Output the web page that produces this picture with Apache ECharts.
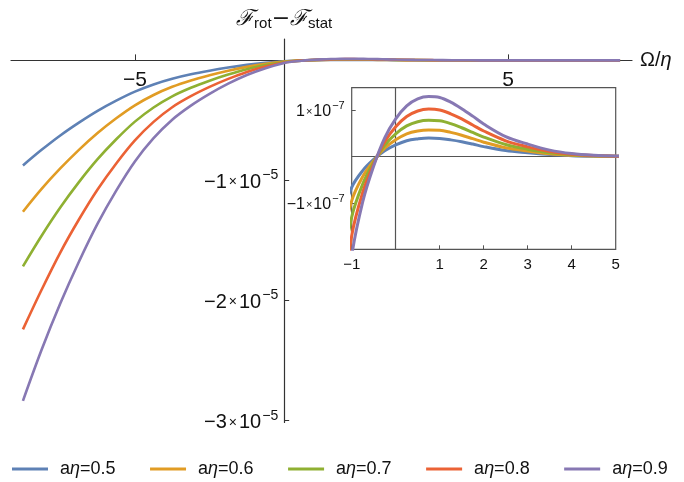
<!DOCTYPE html>
<html>
<head>
<meta charset="utf-8">
<script src="https://cdn.jsdelivr.net/npm/echarts@6/dist/echarts.min.js"></script>
<style>
  html, body { margin: 0; padding: 0; background: #fff; }
  #chart { width: 684px; height: 482px; }
</style>
</head>
<body>
<div id="chart"></div>
<script>
// Ω/η sample points shared by every curve
const OMEGA = [-8, -7.5, -7, -6.5, -6, -5.5, -5, -4.5, -4, -3.5, -3, -2.5, -2, -1.5, -1, -0.75, -0.5, -0.25,
  0, 0.25, 0.5, 0.75, 1, 1.25, 1.5, 1.75, 2, 2.5, 3, 3.5, 4, 4.5, 5, 6, 7, 8];

// F_rot - F_stat, in units of 1e-7
const F_05 = [-87.5, -74.5, -62.5, -51.8, -42, -33.5, -26, -20, -15.3, -11.6, -8.6, -6, -3.75, -2, -0.66, -0.3, -0.06, 0.125,
  0.25, 0.34, 0.38, 0.40, 0.39, 0.36, 0.32, 0.27, 0.215, 0.13, 0.083, 0.043, 0.02, 0.009, 0.004, 0.001, 0, 0];
const F_06 = [-126, -107, -90, -74.5, -60.5, -48.2, -37.4, -28.8, -22, -16.7, -12.4, -8.6, -5.4, -2.9, -0.95, -0.43, -0.09, 0.18,
  0.36, 0.49, 0.55, 0.57, 0.565, 0.52, 0.46, 0.385, 0.31, 0.19, 0.12, 0.061, 0.029, 0.013, 0.005, 0.001, 0, 0];
const F_07 = [-171.5, -146, -122.5, -101.4, -82.3, -65.7, -51, -39.2, -29.9, -22.8, -16.9, -11.8, -7.35, -3.9, -1.3, -0.59, -0.12, 0.245,
  0.49, 0.66, 0.75, 0.78, 0.77, 0.71, 0.62, 0.52, 0.42, 0.26, 0.16, 0.083, 0.039, 0.017, 0.007, 0.0015, 0, 0];
const F_08 = [-224, -191, -160, -132.5, -107.5, -85.8, -66.6, -51.2, -39, -29.8, -22.1, -15.4, -9.6, -5.1, -1.7, -0.77, -0.16, 0.32,
  0.64, 0.86, 0.98, 1.02, 1.0, 0.92, 0.81, 0.68, 0.55, 0.34, 0.21, 0.11, 0.051, 0.022, 0.01, 0.002, 0, 0];
const F_09 = [-283.5, -241, -202.5, -167.7, -136, -108.5, -84.2, -64.8, -49.4, -37.7, -27.9, -19.4, -12.2, -6.5, -2.15, -0.97, -0.2, 0.405,
  0.81, 1.09, 1.24, 1.29, 1.27, 1.17, 1.03, 0.87, 0.70, 0.43, 0.27, 0.14, 0.065, 0.028, 0.012, 0.002, 0.001, 0];

const SERIES_NAMES = ['aη=0.5', 'aη=0.6', 'aη=0.7', 'aη=0.8', 'aη=0.9'];
const SERIES_VALUES = [F_05, F_06, F_07, F_08, F_09];
const COLORS = ['#5E81B5', '#E19C24', '#8FB032', '#EB6235', '#8778B3'];

// tick positions and labels
const MAIN_X_TICKS = [-5, 5];
const MAIN_X_LABELS = ['−5', '5'];
const MAIN_Y_TICKS = [-100, -200, -300];
const MAIN_Y_LABELS = ['−1', '−2', '−3'];
const MAIN_Y_EXP = '−5';
const INSET_X_TICKS = [1, 2, 3, 4];
const INSET_X_LABELS = [-1, 1, 2, 3, 4, 5];
const INSET_Y_TICKS = [1, -1];
const INSET_Y_LABELS = ['1', '−1'];
const INSET_Y_EXP = '−7';

const FONT = "'Liberation Sans', Arial, sans-serif";
const AXIS_COLOR = '#333';

// main plot frame: the horizontal axis sits at F = 0, the vertical one at Ω/η = -1
const MAIN_GRID = { left: 11, top: 39, width: 621, height: 383.5 };
const MAIN_Y_MIN = -301.5, MAIN_Y_MAX = 17.8;
const MAIN_X_MIN = -8.32, MAIN_X_MAX = 8.32;
const MAIN_V_AXIS_AT = -1;

const zeroRowOffset = -MAIN_GRID.height * (0 - MAIN_Y_MIN) / (MAIN_Y_MAX - MAIN_Y_MIN);
const vAxisOffset = -MAIN_GRID.width * (MAIN_V_AXIS_AT - MAIN_X_MIN) / (MAIN_X_MAX - MAIN_X_MIN);

function pairs(values) {
  return OMEGA.map((x, i) => [x, values[i]]);
}

function sciLabel(mantissa, exp) {
  return '{m|' + mantissa + '}{t|×}{m|10}{s|' + exp + '}';
}

const mainSeries = SERIES_NAMES.map((name, i) => ({
  name: name,
  type: 'line',
  xAxisIndex: 0,
  yAxisIndex: 0,
  data: pairs(SERIES_VALUES[i]),
  smooth: 0.35,
  showSymbol: false,
  symbol: 'none',
  lineStyle: { width: 2.6, color: COLORS[i] },
  itemStyle: { color: COLORS[i] },
  z: 3 + i
}));

const insetSeries = SERIES_NAMES.map((name, i) => {
  const s = {
    name: name,
    type: 'line',
    xAxisIndex: 1,
    yAxisIndex: 1,
    data: pairs(SERIES_VALUES[i]),
    smooth: 0.35,
    showSymbol: false,
    symbol: 'none',
    clip: true,
    lineStyle: { width: 3, color: COLORS[i] },
    itemStyle: { color: COLORS[i] },
    z: 3 + i
  };
  if (i === 0) {
    // zero lines inside the inset frame
    s.markLine = {
      silent: true,
      symbol: 'none',
      label: { show: false },
      lineStyle: { color: '#555', width: 1.2, type: 'solid' },
      data: [{ xAxis: 0 }, { yAxis: 0 }],
      z: 2
    };
  }
  return s;
});

const chart = echarts.init(document.getElementById('chart'), null, { renderer: 'canvas' });

chart.setOption({
  animation: false,
  backgroundColor: '#fff',
  textStyle: { fontFamily: FONT },
  color: COLORS,
  legend: {
    left: 7,
    top: 455,
    icon: 'rect',
    itemWidth: 36,
    itemHeight: 3,
    itemGap: 34.5,
    data: SERIES_NAMES,
    formatter: function (name) {
      const parts = name.split('η');
      return '{p|' + parts[0] + '}{i|η}{r|' + parts[1] + '}';
    },
    textStyle: {
      rich: {
        p: { fontSize: 18, color: '#111', fontFamily: FONT, padding: [0, 0, 0, 7] },
        r: { fontSize: 18, color: '#111', fontFamily: FONT },
        i: { fontSize: 18, color: '#111', fontStyle: 'italic', fontFamily: FONT }
      }
    }
  },
  grid: [
    Object.assign({ show: false }, MAIN_GRID),
    { left: 351.7, top: 87.7, width: 264, height: 161.6, show: true, borderColor: '#555', borderWidth: 1.2, backgroundColor: 'transparent' }
  ],
  xAxis: [
    {
      gridIndex: 0,
      type: 'value',
      min: MAIN_X_MIN,
      max: MAIN_X_MAX,
      position: 'bottom',
      offset: zeroRowOffset,
      name: '{o|Ω/}{e|η}',
      nameLocation: 'end',
      nameGap: 8,
      nameTextStyle: {
        rich: {
          o: { fontSize: 20, color: '#111', fontFamily: FONT },
          e: { fontSize: 20, color: '#111', fontStyle: 'italic', fontFamily: FONT }
        }
      },
      axisLine: { show: true, onZero: false, lineStyle: { color: AXIS_COLOR, width: 1.2 } },
      axisTick: { show: true, inside: true, length: 6, customValues: MAIN_X_TICKS, lineStyle: { color: AXIS_COLOR } },
      axisLabel: {
        show: true,
        customValues: MAIN_X_TICKS,
        margin: 9,
        fontSize: 21,
        color: '#111',
        formatter: function (v) { return MAIN_X_LABELS[MAIN_X_TICKS.indexOf(v)]; }
      },
      splitLine: { show: false }
    },
    {
      gridIndex: 1,
      type: 'value',
      min: -1,
      max: 5,
      axisLine: { show: false, onZero: false },
      axisTick: { show: true, inside: true, length: 4, customValues: INSET_X_TICKS, lineStyle: { color: '#555' } },
      axisLabel: {
        show: true,
        customValues: INSET_X_LABELS,
        margin: 8,
        fontSize: 15,
        color: '#111',
        formatter: function (v) { return v < 0 ? '−' + Math.abs(v) : String(v); }
      },
      splitLine: { show: false }
    }
  ],
  yAxis: [
    {
      gridIndex: 0,
      type: 'value',
      min: MAIN_Y_MIN,
      max: MAIN_Y_MAX,
      position: 'left',
      offset: vAxisOffset,
      name: '{f|ℱ}{b|rot}{f|−ℱ}{b|stat}',
      nameLocation: 'end',
      nameGap: 8,
      nameTextStyle: {
        align: 'center',
        rich: {
          f: { fontSize: 22, color: '#111', fontStyle: 'italic', fontFamily: "'DejaVu Serif', serif" },
          b: { fontSize: 15, color: '#111', fontFamily: FONT, padding: [8, 0, 0, 0] }
        }
      },
      axisLine: { show: true, onZero: false, lineStyle: { color: AXIS_COLOR, width: 1.2 } },
      axisTick: { show: true, inside: true, length: 5, customValues: MAIN_Y_TICKS, lineStyle: { color: AXIS_COLOR } },
      axisLabel: {
        show: true,
        customValues: MAIN_Y_TICKS,
        margin: 6,
        color: '#111',
        formatter: function (v) {
          return sciLabel(MAIN_Y_LABELS[MAIN_Y_TICKS.indexOf(v)], MAIN_Y_EXP);
        },
        rich: {
          m: { fontSize: 20, color: '#111', fontFamily: FONT, padding: [4, 0, 0, 0] },
          t: { fontSize: 14, color: '#111', fontFamily: FONT, padding: [4, 2, 0, 2] },
          s: { fontSize: 14, color: '#111', fontFamily: FONT, padding: [0, 0, 10, 1] }
        }
      },
      splitLine: { show: false }
    },
    {
      gridIndex: 1,
      type: 'value',
      min: -1.99,
      max: 1.48,
      position: 'left',
      axisLine: { show: false, onZero: false },
      axisTick: { show: true, inside: true, length: 4, customValues: INSET_Y_TICKS, lineStyle: { color: '#555' } },
      axisLabel: {
        show: true,
        customValues: INSET_Y_TICKS,
        margin: 7,
        color: '#111',
        formatter: function (v) {
          return sciLabel(INSET_Y_LABELS[INSET_Y_TICKS.indexOf(v)], INSET_Y_EXP);
        },
        rich: {
          m: { fontSize: 16, color: '#111', fontFamily: FONT, padding: [3, 0, 0, 0] },
          t: { fontSize: 11, color: '#111', fontFamily: FONT, padding: [3, 1, 0, 1] },
          s: { fontSize: 11, color: '#111', fontFamily: FONT, padding: [0, 0, 8, 1] }
        }
      },
      splitLine: { show: false }
    }
  ],
  series: mainSeries.concat(insetSeries)
});
</script>
</body>
</html>
